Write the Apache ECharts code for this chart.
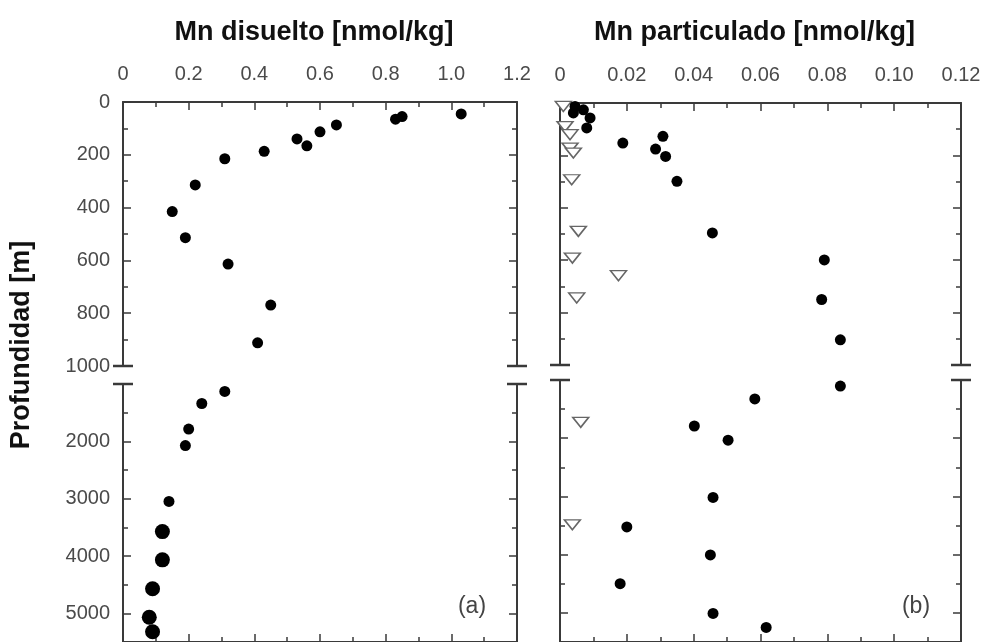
<!DOCTYPE html>
<html><head><meta charset="utf-8">
<script src="https://cdn.jsdelivr.net/npm/echarts@6/dist/echarts.min.js"></script>
<style>html,body{margin:0;padding:0;background:#fff}#c{width:992px;height:642px}</style>
</head><body><div id="c"></div>
<script>
// ---- data ----
const dissolvedDepth = [45, 55, 65, 87, 113, 140, 166, 187, 215, 314, 415, 514, 614, 769, 912, 1129, 1340, 1787, 2074, 3048, 3574, 4067, 4570, 5069, 5321];
const dissolvedMn    = [1.03, 0.85, 0.83, 0.65, 0.60, 0.53, 0.56, 0.43, 0.31, 0.22, 0.15, 0.19, 0.32, 0.45, 0.41, 0.31, 0.24, 0.20, 0.19, 0.14, 0.12, 0.12, 0.09, 0.08, 0.09];
const particulateDepth = [13, 26, 38, 57, 95, 127, 153, 176, 204, 299, 496, 599, 750, 904, 1105, 1325, 1790, 2034, 3017, 3523, 4005, 4499, 5010, 5249];
const particulateMn    = [0.0045, 0.007, 0.004, 0.009, 0.008, 0.0308, 0.0188, 0.0286, 0.0316, 0.035, 0.0456, 0.0791, 0.0783, 0.0839, 0.0839, 0.0583, 0.0402, 0.0503, 0.0458, 0.020, 0.045, 0.018, 0.0458, 0.0617];
const belowDetectionDepth = [13, 90, 121, 172, 191, 293, 490, 592, 659, 744, 1727, 3487];
const belowDetectionMn    = [0.001, 0.0015, 0.003, 0.003, 0.004, 0.0035, 0.0055, 0.0037, 0.0175, 0.005, 0.0062, 0.0037];

const dissolvedTicks   = ['0', '0.2', '0.4', '0.6', '0.8', '1.0', '1.2'];
const particulateTicks = ['0', '0.02', '0.04', '0.06', '0.08', '0.10', '0.12'];
const upperDepthTicks  = ['0', '200', '400', '600', '800', '1000'];
const lowerDepthTicks  = ['2000', '3000', '4000', '5000'];
const panelTitles = ['Mn disuelto [nmol/kg]', 'Mn particulado [nmol/kg]'];
const panelTags = ['(a)', '(b)'];
const depthTitle = 'Profundidad [m]';
const breakDepth = 1000;

// ---- layout ----
const grids = [
  {left: 123, top: 102, width: 394, height: 264},
  {left: 123, top: 384, width: 394, height: 262},
  {left: 560, top: 103, width: 401, height: 262},
  {left: 560, top: 380, width: 401, height: 264}
];
const FONT = '"Liberation Sans", Arial, sans-serif';
const lineStyle = {color: '#3a3a3a', width: 2};

function xAxisFor(gi, upper, maxV, step, ticks) {
  return {
    type: 'value', gridIndex: gi, position: upper ? 'top' : 'bottom',
    min: 0, max: maxV, interval: step,
    axisLine: {show: true, onZero: false, lineStyle},
    axisTick: {show: true, inside: true, length: 8, lineStyle: {color: '#3a3a3a', width: 1.5}},
    minorTick: {show: true, splitNumber: 2, length: 5, lineStyle: {color: '#3a3a3a', width: 1.5}},
    splitLine: {show: false},
    axisLabel: {
      show: upper, margin: 18, color: '#4a4a4a', fontSize: 20, fontFamily: FONT,
      formatter: v => ticks[Math.round(v / step)] || ''
    }
  };
}
function yAxisFor(gi, upper, side, labels) {
  const min = upper ? 0 : breakDepth, max = upper ? breakDepth : 5500, step = upper ? 200 : 1000;
  const list = upper ? upperDepthTicks : lowerDepthTicks;
  return {
    type: 'value', gridIndex: gi, position: side, inverse: true,
    min, max, interval: step,
    axisLine: {show: true, onZero: false, lineStyle},
    axisTick: {show: true, inside: true, length: 8, lineStyle: {color: '#3a3a3a', width: 1.5}},
    minorTick: {show: true, splitNumber: 2, length: 5, lineStyle: {color: '#3a3a3a', width: 1.5}},
    splitLine: {show: false},
    axisLabel: {
      show: labels, margin: 13, color: '#4a4a4a', fontSize: 20, fontFamily: FONT,
      formatter: v => list.indexOf(String(v)) >= 0 ? String(v) : ''
    }
  };
}

const xAxes = [
  xAxisFor(0, true, 1.2, 0.2, dissolvedTicks),
  xAxisFor(1, false, 1.2, 0.2, dissolvedTicks),
  xAxisFor(2, true, 0.12, 0.02, particulateTicks),
  xAxisFor(3, false, 0.12, 0.02, particulateTicks)
];
const yAxes = [];
[0, 1, 2, 3].forEach(gi => {
  const upper = gi % 2 === 0;
  yAxes.push(yAxisFor(gi, upper, 'left', gi < 2));
  yAxes.push(yAxisFor(gi, upper, 'right', false));
});

function pairs(xs, ds, upper) {
  const out = [];
  xs.forEach((x, i) => {
    const d = ds[i];
    if (upper ? d <= breakDepth : d > breakDepth) out.push([x, d]);
  });
  return out;
}

const dot = {color: '#000', opacity: 1};
const tri = {color: '#fff', borderColor: '#666', borderWidth: 1.5, opacity: 1};
const series = [];
[true, false].forEach((upper, k) => {
  series.push({
    type: 'scatter', xAxisIndex: k, yAxisIndex: 2 * k,
    data: pairs(dissolvedMn, dissolvedDepth, upper),
    symbolSize: v => (v[1] >= 3500 ? 15 : 11), itemStyle: dot
  });
  series.push({
    type: 'scatter', xAxisIndex: 2 + k, yAxisIndex: 4 + 2 * k,
    data: pairs(belowDetectionMn, belowDetectionDepth, upper),
    symbol: 'triangle', symbolRotate: 180, symbolSize: [16, 10], itemStyle: tri
  });
  series.push({
    type: 'scatter', xAxisIndex: 2 + k, yAxisIndex: 4 + 2 * k,
    data: pairs(particulateMn, particulateDepth, upper),
    symbolSize: 11, itemStyle: dot
  });
});

// break caps
const graphic = [];
function cap(x, y) {
  graphic.push({type: 'line', shape: {x1: x - 10, y1: y, x2: x + 10, y2: y},
    style: {stroke: '#3a3a3a', lineWidth: 2.5}});
}
[0, 2].forEach(gi => {
  const g = grids[gi];
  cap(g.left, g.top + g.height); cap(g.left + g.width, g.top + g.height);
  const h = grids[gi + 1];
  cap(h.left, h.top); cap(h.left + h.width, h.top);
});
// titles
[0, 2].forEach((gi, k) => {
  const g = grids[gi];
  graphic.push({type: 'text', x: g.left + g.width / 2 - 6, y: 33,
    style: {text: panelTitles[k], textAlign: 'center', textVerticalAlign: 'middle',
      font: 'bold 27px ' + FONT, fill: '#111'}});
  const h = grids[gi + 1];
  graphic.push({type: 'text', x: h.left + h.width - 45, y: 607,
    style: {text: panelTags[k], textAlign: 'center', textVerticalAlign: 'middle',
      font: '23px ' + FONT, fill: '#444'}});
});
graphic.push({type: 'text', x: 22, y: 345, rotation: Math.PI / 2,
  style: {text: depthTitle, textAlign: 'center', textVerticalAlign: 'middle',
    font: 'bold 27px ' + FONT, fill: '#111'}});

const chart = echarts.init(document.getElementById('c'), null, {renderer: 'canvas'});
chart.setOption({
  animation: false,
  backgroundColor: '#fff',
  grid: grids,
  xAxis: xAxes,
  yAxis: yAxes,
  series,
  graphic
});
</script></body></html>
